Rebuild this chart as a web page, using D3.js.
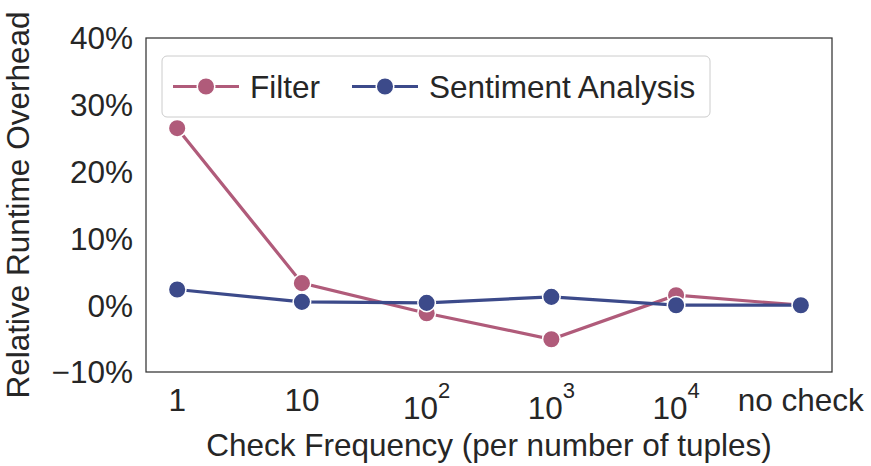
<!DOCTYPE html>
<html>
<head>
<meta charset="utf-8">
<script src="https://cdn.jsdelivr.net/npm/d3@7"></script>
<style>
  body { margin: 0; background: #fff; }
  svg { display: block; font-family: Arial, "Liberation Sans", sans-serif; }
</style>
</head>
<body>
<div id="chart"></div>
<script>
const categories = ["1", "10", "100", "1000", "10000", "no check"];
const tickBase = ["1", "10", "10", "10", "10", "no check"];
const tickSup = ["", "", "2", "3", "4", ""];
const filterValues = [26.5, 3.3, -1.2, -5.1, 1.5, 0];
const sentimentValues = [2.35, 0.5, 0.35, 1.25, 0.0, 0];
const yTicks = [-10, 0, 10, 20, 30, 40];
const seriesNames = ["Filter", "Sentiment Analysis"];
const seriesColors = ["#b05b7a", "#3c4a8a"];

const W = 871, H = 466;
const margin = {top: 38, right: 39, bottom: 94, left: 146};
const width = W - margin.left - margin.right,
      height = H - margin.top - margin.bottom;
const fs = "31.5px";

const svg = d3.select("#chart").append("svg")
    .attr("width", W)
    .attr("height", H);

const g = svg.append("g")
    .attr("transform", `translate(${margin.left},${margin.top})`);

const x = d3.scalePoint()
  .domain(categories)
  .range([0, width])
  .padding(0.25);

const y = d3.scaleLinear()
  .domain([-10, 40])
  .range([height, 0]);

// Y tick labels
g.selectAll(".ytick")
  .data(yTicks)
  .join("text")
    .attr("x", -13)
    .attr("y", d => y(d))
    .attr("dy", "0.36em")
    .attr("text-anchor", "end")
    .attr("font-size", fs)
    .attr("fill", "#262626")
    .text(d => (d < 0 ? "\u2212" + Math.abs(d) : d) + "%");

// X tick labels
const xt = g.selectAll(".xtick")
  .data(categories)
  .join("text")
    .attr("x", d => x(d))
    .attr("y", (d, i) => height + (tickSup[i] ? 47 : 39))
    .attr("text-anchor", "middle")
    .attr("font-size", fs)
    .attr("fill", "#262626");

xt.append("tspan").text((d, i) => tickBase[i]);
xt.append("tspan")
  .attr("font-size", "22px")
  .attr("dy", "-0.95em")
  .text((d, i) => tickSup[i]);

// Axis labels
g.append("text")
  .attr("text-anchor", "middle")
  .attr("x", width / 2)
  .attr("y", height + 84)
  .attr("font-size", fs)
  .attr("fill", "#262626")
  .text("Check Frequency (per number of tuples)");

g.append("text")
  .attr("text-anchor", "middle")
  .attr("transform", "rotate(-90)")
  .attr("x", -height / 2)
  .attr("y", -117)
  .attr("font-size", fs)
  .attr("fill", "#262626")
  .text("Relative Runtime Overhead");

// Series
const series = [filterValues, sentimentValues];
const line = d3.line()
  .x((d, i) => x(categories[i]))
  .y(d => y(d));

series.forEach((vals, k) => {
  g.append("path")
    .datum(vals)
    .attr("fill", "none")
    .attr("stroke", seriesColors[k])
    .attr("stroke-width", 3.2)
    .attr("d", line);

  g.selectAll(".pt" + k)
    .data(vals)
    .join("circle")
      .attr("cx", (d, i) => x(categories[i]))
      .attr("cy", d => y(d))
      .attr("r", 8.8)
      .attr("fill", seriesColors[k])
      .attr("stroke", "white")
      .attr("stroke-width", 1.5);
});

// Frame
g.append("rect")
  .attr("width", width)
  .attr("height", height)
  .attr("fill", "none")
  .attr("stroke", "#333")
  .attr("stroke-width", 1.25);

// Legend
const legend = g.append("g")
  .attr("transform", `translate(${162 - margin.left},${56 - margin.top})`);

legend.append("rect")
  .attr("width", 548)
  .attr("height", 61)
  .attr("rx", 5)
  .attr("fill", "white")
  .attr("fill-opacity", 0.8)
  .attr("stroke", "#cccccc")
  .attr("stroke-width", 1);

const itemX = [11, 190];
seriesNames.forEach((name, k) => {
  const it = legend.append("g").attr("transform", `translate(${itemX[k]},30.5)`);
  it.append("line")
    .attr("x1", 0).attr("x2", 66)
    .attr("stroke", seriesColors[k])
    .attr("stroke-width", 3.2);
  it.append("circle")
    .attr("cx", 33)
    .attr("r", 8.8)
    .attr("fill", seriesColors[k])
    .attr("stroke", "white")
    .attr("stroke-width", 1.5);
  it.append("text")
    .attr("x", 77)
    .attr("dy", "0.36em")
    .attr("font-size", fs)
    .attr("fill", "#262626")
    .text(name);
});
</script>
</body>
</html>
